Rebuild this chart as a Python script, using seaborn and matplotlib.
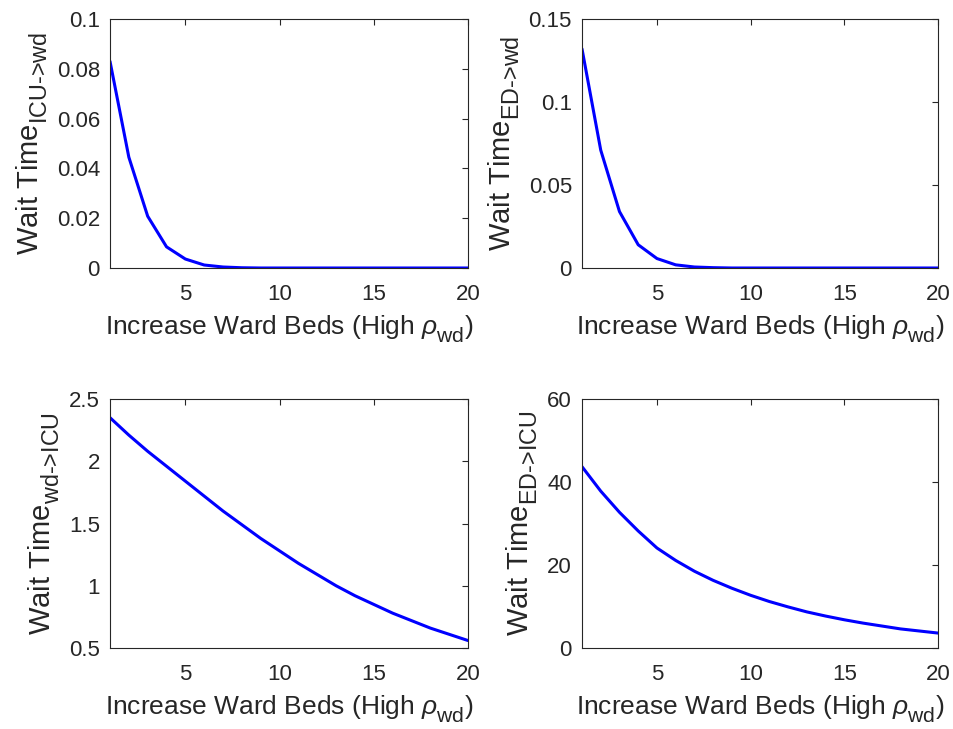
import numpy as np
import pandas as pd
import matplotlib
matplotlib.use("Agg")
import matplotlib.pyplot as plt
import matplotlib._mathtext as _mt
from matplotlib.ticker import FuncFormatter
import seaborn as sns

# ---- data ----
ward_beds = list(range(1, 21))
wait_icu_to_wd = [0.083, 0.0445, 0.0208, 0.0085, 0.0036, 0.0012, 0.0004, 0.0001,
                  0.0, 0.0, 0.0, 0.0, 0.0, 0.0, 0.0, 0.0, 0.0, 0.0, 0.0, 0.0]
wait_ed_to_wd = [0.132, 0.071, 0.034, 0.014, 0.0057, 0.0019, 0.0006, 0.0002,
                 0.0, 0.0, 0.0, 0.0, 0.0, 0.0, 0.0, 0.0, 0.0, 0.0, 0.0, 0.0]
wait_wd_to_icu = [2.35, 2.21, 2.08, 1.96, 1.84, 1.72, 1.60, 1.49, 1.38, 1.28,
                  1.18, 1.09, 1.00, 0.92, 0.85, 0.78, 0.72, 0.66, 0.61, 0.56]
wait_ed_to_icu = [43.7, 37.8, 32.7, 28.2, 24.1, 21.1, 18.5, 16.3, 14.4, 12.7,
                  11.2, 9.9, 8.7, 7.7, 6.8, 6.0, 5.3, 4.6, 4.1, 3.6]

y_labels = [r"Wait Time$_{\text{ICU->wd}}$", r"Wait Time$_{\text{ED->wd}}$",
            r"Wait Time$_{\text{wd->ICU}}$", r"Wait Time$_{\text{ED->ICU}}$"]
x_label = r"Increase Ward Beds (High $\rho_{\text{wd}}$)"
y_ticks = [[0, 0.02, 0.04, 0.06, 0.08, 0.1], [0, 0.05, 0.1, 0.15],
           [0.5, 1, 1.5, 2, 2.5], [0, 20, 40, 60]]
x_ticks = [5, 10, 15, 20]

# MATLAB-like subscripts: a little larger and lower than mathtext's default
_mt.SHRINK_FACTOR = 0.8
_mt.FontConstantsBase.sub1 = 0.6

sns.set_theme(style="white")
plt.rcParams['font.family'] = ['Liberation Sans', 'DejaVu Sans']
plt.rcParams['mathtext.fontset'] = 'custom'
plt.rcParams['mathtext.rm'] = 'Liberation Sans'
plt.rcParams['mathtext.it'] = 'Liberation Sans:italic'
plt.rcParams['mathtext.bf'] = 'Liberation Sans:bold'

fig = plt.figure(figsize=(9.54, 7.29), dpi=100)
W, H = 954, 729
boxes = [(110, 19, 468, 268), (582, 19, 938, 268),
         (110, 399, 468, 648), (582, 399, 938, 648)]
series = [wait_icu_to_wd, wait_ed_to_wd, wait_wd_to_icu, wait_ed_to_icu]
gray = "#262626"
fmt = FuncFormatter(lambda v, p: f"{v:g}")

for (x0, y0, x1, y1), ys, yl, yt in zip(boxes, series, y_labels, y_ticks):
    ax = fig.add_axes([x0 / W, 1 - y1 / H, (x1 - x0) / W, (y1 - y0) / H])
    df = pd.DataFrame({"beds": ward_beds, "wait": ys})
    sns.lineplot(data=df, x="beds", y="wait", ax=ax, color=(0, 0, 1), lw=2.2)
    ax.set_xlim(1, 20)
    ax.set_ylim(yt[0], yt[-1])
    ax.set_xticks(x_ticks)
    ax.set_yticks(yt)
    ax.yaxis.set_major_formatter(fmt)
    ax.tick_params(direction="in", top=True, right=True, length=4, width=0.8,
                   color=gray, labelcolor=gray, labelsize=16)
    ax.tick_params(axis="x", pad=11.5)
    ax.tick_params(axis="y", pad=7.2)
    for s in ax.spines.values():
        s.set_color(gray)
        s.set_linewidth(0.8)
    ax.set_xlabel(x_label, fontsize=19, color=gray, labelpad=6)
    ax.set_ylabel(yl, fontsize=21, color=gray, labelpad=5)

fig.savefig("out.png", dpi=100)
